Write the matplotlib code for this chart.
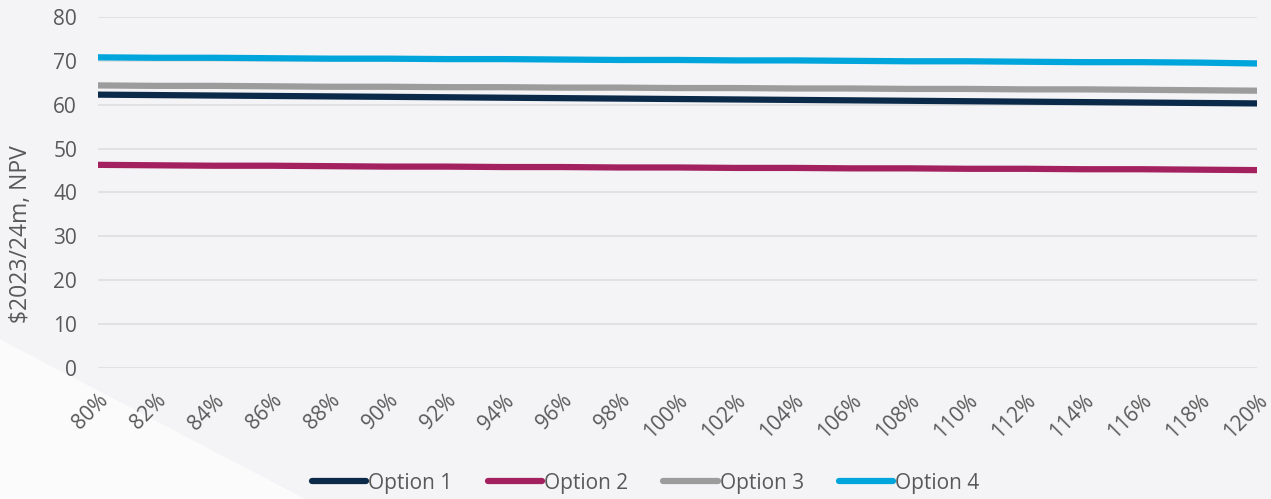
import matplotlib
matplotlib.use("Agg")
import matplotlib.pyplot as plt
from matplotlib.patches import Polygon

# sensitivity (%) on the x axis
sensitivity = [f"{p}%" for p in range(80, 121, 2)]

option_1 = [62.3, 62.2, 62.1, 62.0, 61.9, 61.8, 61.7, 61.6, 61.5, 61.4, 61.3,
            61.2, 61.1, 61.0, 60.9, 60.8, 60.7, 60.6, 60.5, 60.4, 60.3]
option_2 = [46.3, 46.2, 46.1, 46.1, 46.0, 45.9, 45.9, 45.8, 45.8, 45.7, 45.7,
            45.6, 45.6, 45.5, 45.5, 45.4, 45.4, 45.3, 45.3, 45.2, 45.1]
option_3 = [64.4, 64.3, 64.3, 64.2, 64.1, 64.1, 64.0, 64.0, 63.9, 63.9, 63.8,
            63.8, 63.7, 63.7, 63.6, 63.6, 63.5, 63.5, 63.4, 63.3, 63.2]
option_4 = [70.8, 70.7, 70.7, 70.6, 70.5, 70.5, 70.4, 70.4, 70.3, 70.2, 70.2,
            70.1, 70.1, 70.0, 69.9, 69.9, 69.8, 69.7, 69.7, 69.6, 69.4]

series = [("Option 1", option_1, "#0b2a4a"),
          ("Option 2", option_2, "#a3215f"),
          ("Option 3", option_3, "#9c9c9c"),
          ("Option 4", option_4, "#00a5dc")]

plt.rcParams["font.family"] = ["Open Sans", "DejaVu Sans"]
text_col = "#595959"

fig = plt.figure(figsize=(12.71, 4.99), dpi=100)
fig.patch.set_facecolor("#f4f4f6")
# lighter wedge in the lower-left corner of the background
fig.patches.append(Polygon([(0, 0), (0, 0.32), (0.24, 0)], closed=True,
                           transform=fig.transFigure, facecolor="#fbfbfb",
                           edgecolor="none", zorder=-5))

ax = fig.add_axes([0.077, 0.2625, 0.912, 0.7035])
ax.set_facecolor("none")

x = list(range(len(sensitivity)))
for name, vals, col in series:
    ax.plot(x, vals, color=col, linewidth=4.5, label=name, solid_capstyle="butt")

ax.set_xlim(0, len(sensitivity) - 1)
ax.set_ylim(0, 80)
ax.set_yticks(range(0, 81, 10))
ax.set_xticks(x)
ax.set_xticklabels(sensitivity, rotation=45, ha="right", rotation_mode="anchor")
ax.tick_params(axis="both", length=0, labelsize=15, labelcolor=text_col)
ax.tick_params(axis="y", pad=15)
ax.tick_params(axis="x", pad=16)
ax.grid(axis="y", color="#dedede", linewidth=1.2)
ax.set_axisbelow(True)
for s in ax.spines.values():
    s.set_visible(False)

ax.set_ylabel(r"\$2023/24m, NPV", fontsize=16.5, color=text_col)
ax.yaxis.set_label_coords(-0.056, 0.38)

leg = fig.legend(loc="center", bbox_to_anchor=(0.508, 0.032), ncol=4, frameon=False,
                 handlelength=2.6, handletextpad=0.1, columnspacing=1.7,
                 prop={"family": ["Liberation Sans Narrow", "Open Sans"], "size": 15})
for t in leg.get_texts():
    t.set_color(text_col)
for h in leg.get_lines():
    h.set_linewidth(4.5)
    h.set_solid_capstyle("round")

fig.savefig("out.png", dpi=100, facecolor=fig.get_facecolor())
